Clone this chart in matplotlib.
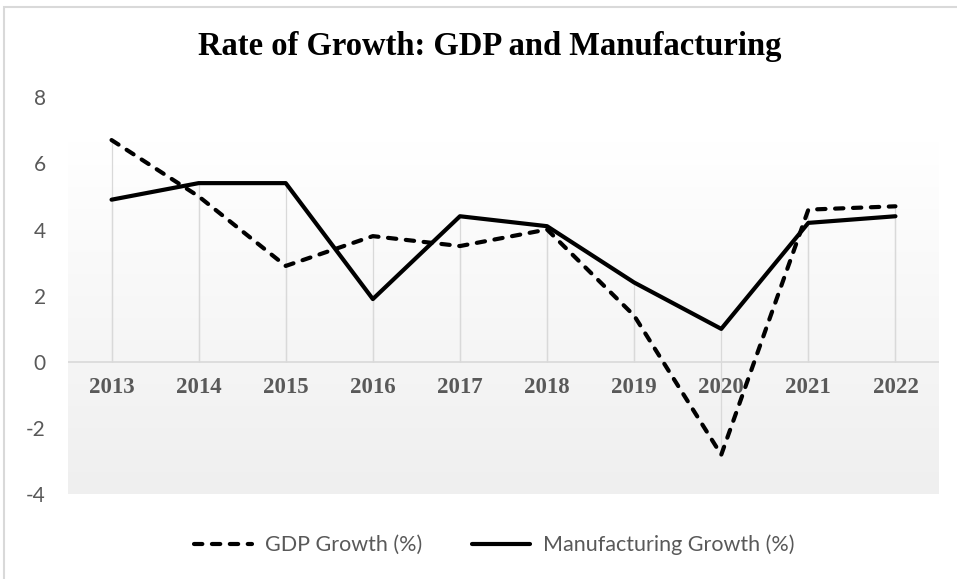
import numpy as np
import matplotlib
matplotlib.use("Agg")
import matplotlib.pyplot as plt
from matplotlib.patches import Rectangle

# Annual growth rates (%)
years = ["2013", "2014", "2015", "2016", "2017", "2018", "2019", "2020", "2021", "2022"]
gdp_growth = [6.7, 5.0, 2.9, 3.8, 3.5, 4.0, 1.4, -2.8, 4.6, 4.7]
mfg_growth = [4.9, 5.4, 5.4, 1.9, 4.4, 4.1, 2.4, 1.0, 4.2, 4.4]
y_ticks = [-4, -2, 0, 2, 4, 6, 8]

W, H = 957, 579
fig = plt.figure(figsize=(W / 100, H / 100), dpi=100)
fig.patch.set_facecolor("white")

# chart-area frame
fig.add_artist(Rectangle((4 / W, -0.01), 1.2, (H - 7) / H + 0.01,
                         transform=fig.transFigure, fill=False,
                         edgecolor="#d9d9d9", linewidth=1.5))

left, right, top, bottom = 68, 939, 97, 494.5
ax = fig.add_axes([left / W, 1 - bottom / H, (right - left) / W, (bottom - top) / H])
x = np.arange(len(years))
ax.set_xlim(-0.5, len(years) - 0.5)
ax.set_ylim(-4, 8)

# plot-area gradient: white near the top fading to light grey at the bottom
vals = np.linspace(8, -4, 400)
frac = np.clip((6.6 - vals) / (6.6 + 4), 0, 1)
c_top = np.array([1.0, 1.0, 1.0])
c_bot = np.array([0xef, 0xef, 0xef]) / 255
img = c_top + (c_bot - c_top) * frac[:, None]
img = np.repeat(img[:, None, :], 2, axis=1)
ax.imshow(img, extent=(-0.5, len(years) - 0.5, -4, 8), aspect="auto",
          origin="upper", zorder=0, interpolation="bilinear")

# drop lines from each point to the zero axis
ax.vlines(x, 0, gdp_growth, colors="#d9d9d9", linewidth=0.9, zorder=1)
ax.vlines(x, 0, mfg_growth, colors="#d9d9d9", linewidth=0.9, zorder=1)
ax.axhline(0, color="#d9d9d9", linewidth=1.2, zorder=1)

gdp_line, = ax.plot(x, gdp_growth, color="black", linewidth=3.0,
                    linestyle=(0, (2.0, 2.3)), dash_capstyle="round",
                    solid_joinstyle="round", zorder=3, label="GDP Growth (%)")
mfg_line, = ax.plot(x, mfg_growth, color="black", linewidth=3.0,
                    solid_capstyle="round", solid_joinstyle="round",
                    zorder=3, label="Manufacturing Growth (%)")

for s in ax.spines.values():
    s.set_visible(False)

ax.set_yticks(y_ticks)
ax.set_yticklabels([str(v) for v in y_ticks], fontfamily="Lato",
                   fontsize=15, color="#595959")
ax.tick_params(axis="y", length=0, pad=16)

ax.set_xticks([])
for xi, lab in zip(x, years):
    ax.text(xi, -0.78, lab, ha="center", va="center", fontfamily="Liberation Serif",
            fontweight="bold", fontsize=16.5, color="#595959", zorder=2)

fig.text(490 / W, 1 - 47 / H, "Rate of Growth: GDP and Manufacturing",
         ha="center", va="center", fontfamily="Liberation Serif",
         fontweight="bold", fontsize=23.5, color="black")

leg = fig.legend(handles=[gdp_line, mfg_line], loc="center",
                 bbox_to_anchor=(494 / W, 1 - 545 / H), ncol=2, frameon=False,
                 prop={"family": "Lato", "size": 15.5}, handlelength=2.7,
                 handletextpad=0.6, columnspacing=2.3)
for t in leg.get_texts():
    t.set_color("#595959")

fig.savefig("out.png", dpi=100, facecolor="white")
